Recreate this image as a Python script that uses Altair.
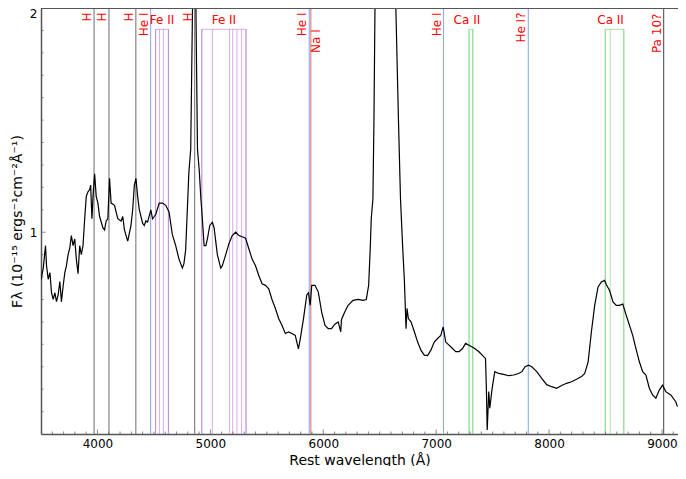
import altair as alt
import pandas as pd

# ---------------- spectrum ----------------
wave = [3500, 3520, 3540, 3549, 3564, 3579, 3593, 3608, 3623, 3637, 3652, 3667, 3681, 3696,
        3711, 3725, 3740, 3755, 3769, 3784, 3799, 3813, 3828, 3843, 3857, 3872, 3887, 3901,
        3916, 3931, 3940, 3951, 3963, 3975, 3989, 4004, 4019, 4048, 4063, 4077, 4092, 4107,
        4121, 4151, 4180, 4209, 4224, 4239, 4268, 4297, 4312, 4327, 4341, 4356, 4371, 4400,
        4415, 4429, 4444, 4473, 4488, 4503, 4517, 4547, 4576, 4605, 4634, 4663, 4693, 4722,
        4752, 4766, 4781, 4796, 4810, 4826, 4842, 4858, 4872, 4886, 4901, 4916, 4925, 4945,
        4960, 4974, 4995, 5018, 5033, 5062, 5092, 5106, 5136, 5165, 5194, 5224, 5253, 5282,
        5312, 5341, 5370, 5400, 5429, 5458, 5488, 5517, 5546, 5576, 5605, 5634, 5664, 5693,
        5722, 5752, 5780, 5795, 5825, 5854, 5869, 5884, 5898, 5927, 5956, 5986, 6015, 6044,
        6073, 6103, 6132, 6155, 6161, 6190, 6220, 6264, 6308, 6352, 6381, 6402, 6416, 6425,
        6440, 6449, 6458, 6500, 6563, 6610, 6643, 6666, 6684, 6704, 6719, 6733, 6742, 6754,
        6777, 6807, 6836, 6865, 6895, 6924, 6953, 6983, 7012, 7041, 7062, 7085, 7129, 7173,
        7203, 7232, 7261, 7291, 7335, 7379, 7423, 7437, 7445, 7452, 7466, 7475, 7495, 7519,
        7554, 7598, 7642, 7686, 7730, 7759, 7788, 7818, 7847, 7891, 7935, 7979, 8023, 8067,
        8111, 8155, 8199, 8243, 8287, 8316, 8346, 8375, 8404, 8434, 8463, 8492, 8507, 8536,
        8566, 8595, 8624, 8653, 8683, 8712, 8741, 8770, 8800, 8829, 8858, 8888, 8917, 8946,
        8976, 9005, 9034, 9078, 9122, 9137]
flux = [0.79, 0.84, 0.94, 0.85, 0.79, 0.82, 0.73, 0.70, 0.73, 0.69, 0.72, 0.78, 0.69, 0.76,
        0.82, 0.85, 0.90, 0.93, 0.985, 0.94, 0.97, 0.88, 0.815, 0.94, 0.90, 0.94, 1.06, 1.16,
        1.18, 1.19, 1.21, 1.06, 1.18, 1.26, 1.16, 1.13, 1.07, 1.02, 1.01, 1.05, 1.06, 1.24,
        1.13, 1.12, 1.06, 1.05, 1.07, 1.01, 0.96, 1.03, 1.10, 1.21, 1.24, 1.16, 1.10, 1.04,
        1.03, 1.05, 1.045, 1.10, 1.06, 1.07, 1.08, 1.13, 1.13, 1.12, 1.09, 0.99, 0.94, 0.88,
        0.84, 0.86, 0.92, 1.10, 1.27, 1.37, 2.0, 2.5, 2.0, 1.37, 1.28, 1.15, 1.09, 0.94,
        0.94, 0.97, 1.03, 1.044, 1.02, 0.90, 0.84, 0.85, 0.90, 0.95, 0.985, 1.0, 0.985, 0.98,
        0.973, 0.926, 0.88, 0.85, 0.807, 0.77, 0.763, 0.748, 0.70, 0.66, 0.615, 0.585, 0.548, 0.555,
        0.548, 0.54, 0.48, 0.52, 0.615, 0.72, 0.73, 0.674, 0.763, 0.763, 0.733, 0.644, 0.585, 0.57,
        0.57, 0.59, 0.60, 0.556, 0.61, 0.644, 0.674, 0.696, 0.70, 0.696, 0.70, 0.763, 0.926, 1.06,
        1.15, 1.5, 2.0, 3.5, 4.5, 3.5, 2.0, 1.5, 1.15, 0.926, 0.78, 0.57, 0.66, 0.615,
        0.60, 0.556, 0.51, 0.474, 0.452, 0.45, 0.474, 0.51, 0.526, 0.54, 0.578, 0.51, 0.489, 0.467,
        0.467, 0.48, 0.504, 0.496, 0.484, 0.467, 0.444, 0.437, 0.30, 0.118, 0.289, 0.215, 0.30, 0.378,
        0.37, 0.366, 0.36, 0.363, 0.37, 0.378, 0.40, 0.407, 0.40, 0.378, 0.348, 0.32, 0.311, 0.304,
        0.316, 0.326, 0.333, 0.344, 0.356, 0.37, 0.422, 0.556, 0.674, 0.756, 0.778, 0.785, 0.767, 0.74,
        0.689, 0.674, 0.674, 0.68, 0.63, 0.585, 0.54, 0.48, 0.422, 0.378, 0.363, 0.304, 0.274, 0.26,
        0.296, 0.318, 0.289, 0.274, 0.244, 0.222]

# ---------------- line identifications ----------------
h_lines = [3970, 4102, 4340, 4861]
hei_lines = [4471, 5876, 7065, 7816]
hei_names = ["He I", "He I", "He I", "He I?"]
nai_lines = [5890]
pa_lines = [9015]
fe_groups = [[4515, 4549, 4584, 4629], [4924, 5018, 5169, 5198, 5235, 5276, 5316]]
ca_groups = [[7291, 7324], [8498, 8542, 8662]]

x_domain = [3500, 9142]
y_domain = [0.1, 2.0]
bracket_top = 1.905
label_top = 1.98

x_major = [4000, 5000, 6000, 7000, 8000, 9000]
x_minor = [v for v in range(3600, 9200, 100) if v % 1000 != 0]
y_major = [1, 2]
y_minor = [round(0.1 * i, 1) for i in range(2, 20) if i != 10]

kinds = ["H", "HeI", "NaI", "Pa", "Fe", "Ca"]
kind_colors = ["#7a7a7a", "#8eaaf0", "#e27a7a", "#555555", "#b67ad8", "#74d474"]

# ---------------- tables ----------------
rows = []
for w in h_lines:
    rows.append({"wave": w, "kind": "H", "y0": y_domain[0], "y1": y_domain[1]})
for w in hei_lines:
    rows.append({"wave": w, "kind": "HeI", "y0": y_domain[0], "y1": y_domain[1]})
for w in nai_lines:
    rows.append({"wave": w, "kind": "NaI", "y0": y_domain[0], "y1": y_domain[1]})
for w in pa_lines:
    rows.append({"wave": w, "kind": "Pa", "y0": y_domain[0], "y1": y_domain[1]})
full_df = pd.DataFrame(rows)

grows, brows, glabels = [], [], []
for kind, name, groups, shift in [("Fe", "Fe II", fe_groups, 0), ("Ca", "Ca II", ca_groups, -35)]:
    for g in groups:
        for w in g:
            grows.append({"wave": w, "kind": kind, "y0": y_domain[0], "y1": bracket_top})
        lo, hi = min(g), max(g)
        brows.append({"wave": lo, "wave2": hi, "kind": kind, "y0": bracket_top, "y1": bracket_top})
        brows.append({"wave": lo, "wave2": lo, "kind": kind, "y0": y_domain[0], "y1": bracket_top})
        brows.append({"wave": hi, "wave2": hi, "kind": kind, "y0": y_domain[0], "y1": bracket_top})
        glabels.append({"wave": (lo + hi) / 2 + shift, "text": name, "y": bracket_top + 0.01})
group_df = pd.DataFrame(grows)
bracket_df = pd.DataFrame(brows)
glabel_df = pd.DataFrame(glabels)

left_labels = ([{"wave": w, "text": "H", "y": label_top} for w in h_lines]
               + [{"wave": w, "text": n, "y": label_top} for w, n in zip(hei_lines, hei_names)]
               + [{"wave": w, "text": "Pa 10?", "y": 1.975} for w in pa_lines])
right_labels = [{"wave": w, "text": "Na I", "y": bracket_top} for w in nai_lines]
left_df = pd.DataFrame(left_labels)
right_df = pd.DataFrame(right_labels)

spec_df = pd.DataFrame({"wave": wave, "flux": flux})

xs = alt.Scale(domain=x_domain, nice=False, zero=False)
ys = alt.Scale(domain=y_domain, nice=False, zero=False)
cscale = alt.Scale(domain=kinds, range=kind_colors)
AX = "#555555"

x_axis = alt.Axis(title="Rest wavelength (Å)", values=x_major, format="d", grid=False,
                  ticks=False, tickSize=0, labelPadding=4, labelFontSize=12, titleFontSize=14,
                  titleFontWeight="normal", titlePadding=4, domainColor=AX, domainWidth=1.5,
                  labelColor="black", titleColor="black", labelFlush=False)
y_axis = alt.Axis(title="Fλ (10⁻¹⁵ ergs⁻¹cm⁻²Å⁻¹)", values=y_major, format="d", grid=False,
                  ticks=False, tickSize=0, labelPadding=4, labelFontSize=12, titleFontSize=14,
                  titleFontWeight="normal", titleX=-24, titleBaseline="middle",
                  domainColor=AX, domainWidth=1.5,
                  labelColor="black", titleColor="black", labelFlush=True)

full_rules = alt.Chart(full_df).mark_rule(strokeWidth=1.1).encode(
    x=alt.X("wave:Q", scale=xs, axis=x_axis),
    y=alt.Y("y0:Q", scale=ys, axis=y_axis),
    y2="y1:Q",
    color=alt.Color("kind:N", scale=cscale, legend=None),
)
group_rules = alt.Chart(group_df).mark_rule(strokeWidth=1.1, opacity=0.55).encode(
    x="wave:Q", y="y0:Q", y2="y1:Q",
    color=alt.Color("kind:N", scale=cscale, legend=None),
)
bracket_rules = alt.Chart(bracket_df).mark_rule(strokeWidth=1.1, opacity=0.6).encode(
    x="wave:Q", x2="wave2:Q", y="y0:Q", y2="y1:Q",
    color=alt.Color("kind:N", scale=cscale, legend=None),
)
spectrum = alt.Chart(spec_df).mark_line(color="black", strokeWidth=1.2, clip=True).encode(
    x="wave:Q", y="flux:Q", order="wave:Q"
)
top_border = alt.Chart(pd.DataFrame({"y": [y_domain[1]]})).mark_rule(color=AX, strokeWidth=2).encode(
    y="y:Q"
)

xt_major = alt.Chart(pd.DataFrame({"v": x_major})).mark_tick(
    orient="vertical", size=9, thickness=1, color=AX, clip=True).encode(x="v:Q", y=alt.datum(y_domain[0]))
xt_minor = alt.Chart(pd.DataFrame({"v": x_minor})).mark_tick(
    orient="vertical", size=5, thickness=1, color=AX, clip=True).encode(x="v:Q", y=alt.datum(y_domain[0]))
yt_major = alt.Chart(pd.DataFrame({"v": y_major})).mark_tick(
    orient="horizontal", size=9, thickness=1, color=AX, clip=True).encode(y="v:Q", x=alt.datum(x_domain[0]))
yt_minor = alt.Chart(pd.DataFrame({"v": y_minor})).mark_tick(
    orient="horizontal", size=5, thickness=1, color=AX, clip=True).encode(y="v:Q", x=alt.datum(x_domain[0]))

left_text = alt.Chart(left_df).mark_text(angle=270, align="right", baseline="bottom",
                                         color="red", fontSize=12).encode(
    x="wave:Q", y="y:Q", text="text:N")
right_text = alt.Chart(right_df).mark_text(angle=270, align="right", baseline="top",
                                           color="red", fontSize=12).encode(
    x="wave:Q", y="y:Q", text="text:N")
group_text = alt.Chart(glabel_df).mark_text(align="center", baseline="bottom",
                                            color="red", fontSize=12).encode(
    x="wave:Q", y="y:Q", text="text:N")

chart = alt.layer(
    full_rules, group_rules, bracket_rules, spectrum, top_border,
    xt_major, xt_minor, yt_major, yt_minor, left_text, right_text, group_text
).properties(
    width=637, height=426,
    autosize=alt.AutoSizeParams(type="none"),
    padding={"left": 33, "top": 0, "right": 0, "bottom": 32},
).configure(
    font="DejaVu Sans",
).configure_view(stroke=None)

chart.save("out.html", embed_options={"renderer": "svg", "actions": False})
